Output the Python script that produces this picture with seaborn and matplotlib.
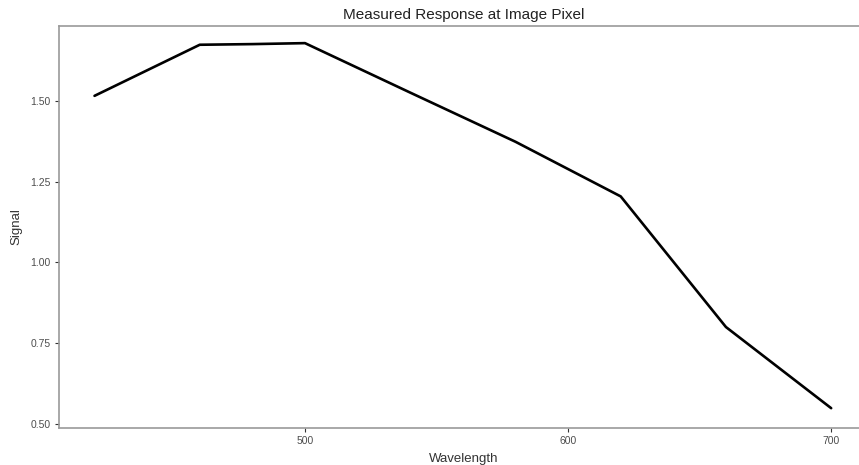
import pandas as pd
import numpy as np
import seaborn as sns
import matplotlib.pyplot as plt

# values
wavelength = [420, 460, 480, 500, 540, 580, 620, 660, 700]
signal = [1.515, 1.673, 1.675, 1.678, 1.525, 1.373, 1.204, 0.80, 0.549]
xticks = [500, 600, 700]
yticks = [0.50, 0.75, 1.00, 1.25, 1.50]

df = pd.DataFrame({'Wavelength': wavelength, 'Signal': signal})

sns.set_style("white")
plt.rcParams['font.family'] = ['Liberation Sans', 'DejaVu Sans']

fig = plt.figure(figsize=(8.59, 4.65), dpi=100)
# panel runs past the right edge, like the cropped original
ax = fig.add_axes([59 / 859, 1 - 428 / 465, 809 / 859, 402 / 465])

sns.lineplot(x='Wavelength', y='Signal', data=df, ax=ax,
             color='black', linewidth=1.9, sort=False)

ax.set_xlim(406.5, 714)
ax.set_ylim(0.4877, 1.731)
ax.set_xticks(xticks)
ax.set_yticks(yticks)
ax.set_yticklabels(["%.2f" % v for v in yticks])

for s in ax.spines.values():
    s.set_color('#9a9a9a')
    s.set_linewidth(1.2)
ax.spines['right'].set_visible(False)

ax.tick_params(axis='both', which='major', length=3, width=0.8, color='#333333',
               labelsize=7.5, labelcolor='#4d4d4d', pad=3, bottom=True, left=True)

ax.set_title("Measured Response at Image Pixel", fontsize=11, color='#222222', pad=5)
ax.set_xlabel("Wavelength", fontsize=9.5, color='#333333', labelpad=5)
ax.set_ylabel("Signal", fontsize=9.5, color='#333333', labelpad=6)

fig.savefig('out.png', dpi=100)
